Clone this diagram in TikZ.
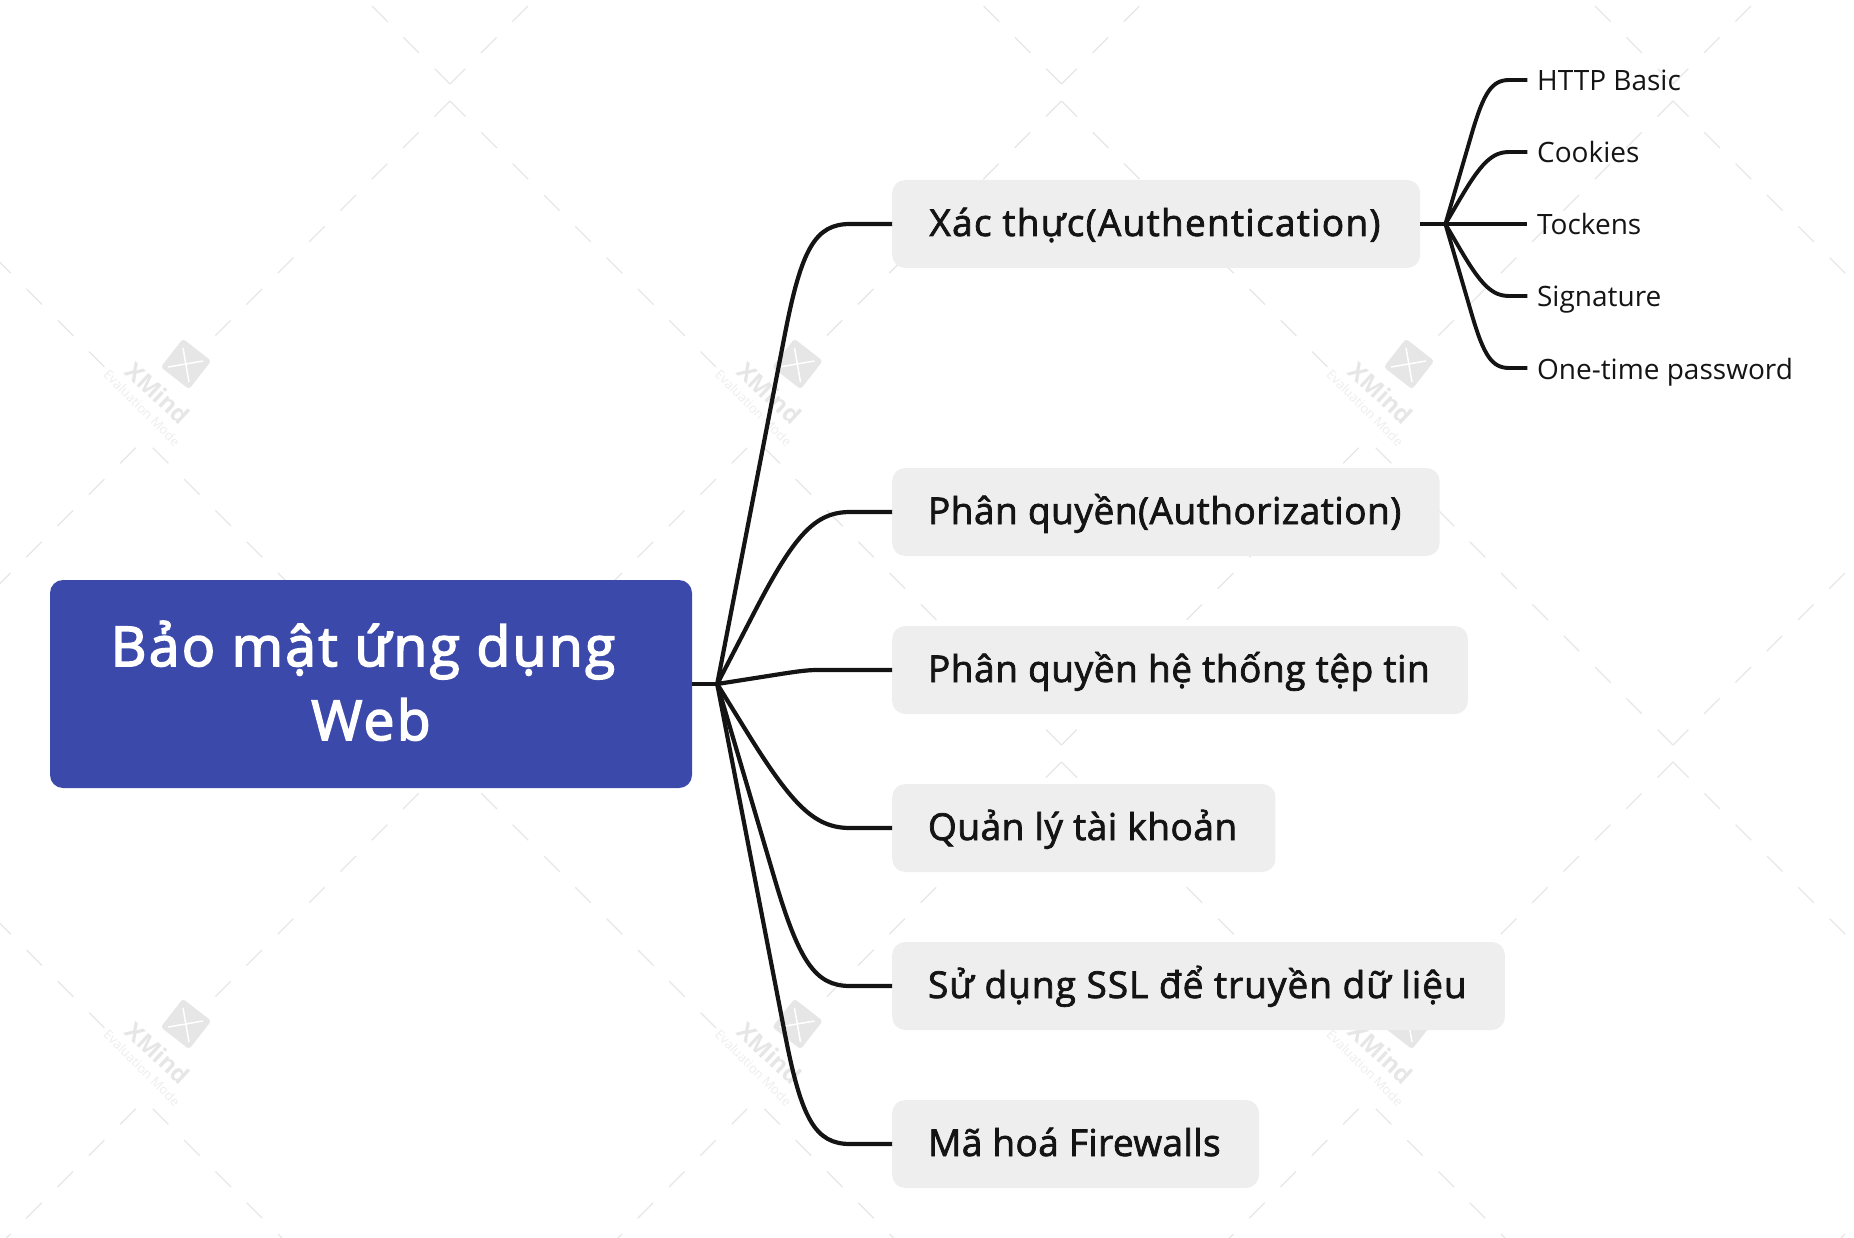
\documentclass[tikz,border=0pt]{standalone}
\usepackage{fontspec}
\setmainfont{Open Sans}
\usetikzlibrary{positioning, calc}
\definecolor{rootblue}{HTML}{3B4AAA}
\definecolor{topicgray}{HTML}{EEEEEE}
\definecolor{linedark}{HTML}{141414}
\definecolor{markgray}{HTML}{E6E6E6}
\newfontface\topicface{Open Sans}[FakeBold=2]
\newfontface\rootface{Open Sans}[FakeBold=3, LetterSpace=4.4]
\newcommand{\topictext}[2]{\addfontfeature{LetterSpace=#1}\hspace*{-1.2pt}#2\hspace*{1.3pt}}
\begin{document}
\begin{tikzpicture}[x=1pt, y=1pt]
    \tikzset{
    rootblock/.style={fill=rootblue, text=white, rounded corners=13pt, align=center, minimum width=642pt, minimum height=208pt, text depth=7pt, font=\rootface\fontsize{55}{74}\selectfont},
    topicblock/.style={fill=topicgray, text=linedark, rounded corners=13pt, minimum height=88pt, inner xsep=37pt, inner ysep=0pt, text height=24pt, text depth=0pt, font=\topicface\fontsize{37}{44}\selectfont},
    leafblock/.style={text=linedark, inner xsep=9.5pt, inner ysep=0pt, text height=22pt, text depth=0pt, font=\fontsize{28}{34}\selectfont},
    branch/.style={draw=linedark, line width=4.2pt},
    subbranch/.style={draw=linedark, line width=3.9pt},
    markdash/.style={draw=markgray, line width=1.3pt, dash pattern=on 22pt off 22.3pt},
    marktext/.style={text=markgray, inner sep=0pt, rotate=-43, font=\bfseries\fontsize{24}{24}\selectfont},
    marksub/.style={text=markgray!70, inner sep=0pt, rotate=-45, font=\fontsize{13}{13}\selectfont}
}
\useasboundingbox (0,0) rectangle (1854,-1238);
\begin{scope}
\clip (0,0) rectangle (1854,-1238);
\foreach \col [evaluate=\col as \colx using 450+611.5*\col] in {-1,...,3} {
    \foreach \row [evaluate=\row as \rowy using 101+661*\row, evaluate=\row as \rowv using 84+661*\row] in {-1,0,1,2} {
        \draw [markdash] (\colx,-\rowy) -- ++(-234.6,-234.6);
        \draw [markdash] (\colx,-\rowy) -- ++(265.9,-265.9);
        \draw [markdash] (\colx-297.2,-\rowv+297.2) -- (\colx,-\rowv);
        \draw [markdash] (\colx+297.2,-\rowv+297.2) -- (\colx,-\rowv);
    }
}
\foreach \col [evaluate=\col as \colx using 186+611.5*\col] in {0,1,2} {
    \foreach \row [evaluate=\row as \rowy using -364-660*\row] in {0,1} {
        \begin{scope}[shift={(\colx,\rowy)}]
        \fill [markgray, rounded corners=3pt, rotate=-38] (-18,-18) rectangle (18,18);
        \draw [white, line width=1.5pt] (-3,16) -- (3,-18);
        \draw [white, line width=1.5pt] (-18,-3) -- (17,3);
        \node [marktext] (mark-\col-\row) at (-28,-29) {XMind};
        \node [marksub] (marksub-\col-\row) at (-44,-44) {Evaluation Mode};
        \end{scope}
    }
}
\end{scope}

\node [rootblock] (root) at (371,-684) {Bảo mật ứng dụng\hspace*{16pt}\\Web};
\node [coordinate, right=25pt of root.east] (rootfork) {};
\node [coordinate, right=89pt of rootfork] (rootbend) {};

\node [topicblock, minimum width=528pt, anchor=west] (xacthuc) at (892,-224) {\topictext{3.5}{Xác thực(Authentication)}};
\node [topicblock, below=288pt of xacthuc.west, anchor=west] (phanquyen) {\topictext{1.4}{Phân quyền(Authorization)}};
\node [topicblock, below=158pt of phanquyen.west, anchor=west] (heThong) {\topictext{1.5}{Phân quyền hệ thống tệp tin}};
\node [topicblock, below=158pt of heThong.west, anchor=west] (taikhoan) {\topictext{1.4}{Quản lý tài khoản}};
\node [topicblock, below=158pt of taikhoan.west, anchor=west] (ssl) {\topictext{2.7}{Sử dụng SSL để truyền dữ liệu}};
\node [topicblock, below=158pt of ssl.west, anchor=west] (mahoa) {\topictext{1.1}{Mã hoá Firewalls}};

\node [coordinate, right=25pt of xacthuc.east] (authfork) {};
\node [coordinate, right=42pt of authfork] (authbend) {};
\node [leafblock, right=82pt of authfork, anchor=west] (tockens) {Tockens};
\node [leafblock, above=72pt of tockens.west, anchor=west] (cookies) {Cookies};
\node [leafblock, above=72pt of cookies.west, anchor=west] (httpbasic) {HTTP Basic};
\node [leafblock, below=72pt of tockens.west, anchor=west] (signature) {Signature};
\node [leafblock, below=72pt of signature.west, anchor=west] (onetime) {One-time password};

\path [branch] (root.east) -- (rootfork);
\foreach \topic/\k in {xacthuc/1, phanquyen/1, heThong/0.25, taikhoan/1, ssl/1, mahoa/1}
    \path [branch] (rootfork) -- ($(rootbend |- \topic.west)!\k*113pt!(rootfork)$)
        .. controls ($(rootbend |- \topic.west)!\k*25pt!(rootfork)$) and ($(rootbend |- \topic.west)+(\k*9,0)$) .. ($(rootbend |- \topic.west)+(\k*44,0)$) -- (\topic.west);
\path [subbranch] (xacthuc.east) -- (authfork);
\foreach \leaf/\k in {httpbasic/0.5, cookies/0.5, tockens/0.1, signature/0.5, onetime/0.5}
    \path [subbranch] (authfork) -- ($(authbend |- \leaf.west)!\k*113pt!(authfork)$)
        .. controls ($(authbend |- \leaf.west)!\k*25pt!(authfork)$) and ($(authbend |- \leaf.west)+(\k*9,0)$) .. ($(authbend |- \leaf.west)+(\k*44,0)$) -- (\leaf.west);
\end{tikzpicture}
\end{document}
